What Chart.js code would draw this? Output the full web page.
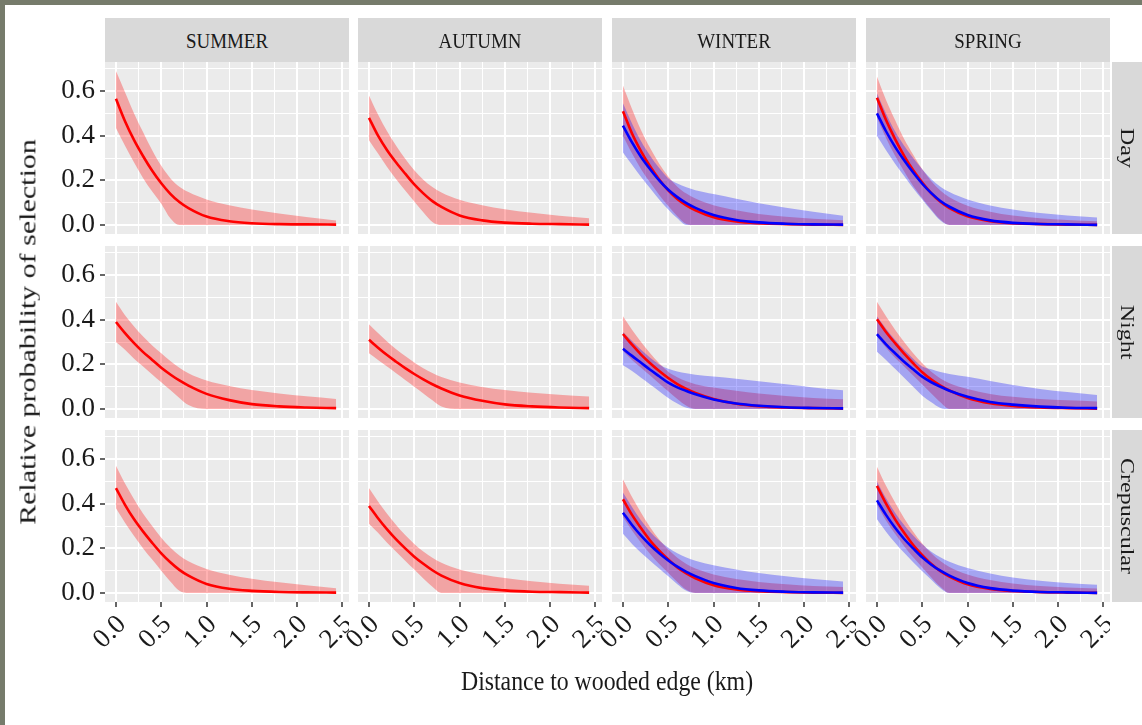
<!DOCTYPE html>
<html>
<head>
<meta charset="utf-8">
<script src="https://cdn.jsdelivr.net/npm/chart.js@4/dist/chart.umd.min.js"></script>
<style>
html,body{margin:0;padding:0;background:#ffffff;}
body{width:1142px;height:725px;position:relative;overflow:hidden;font-family:'Liberation Serif',serif;color:#1a1a1a;}
.frame{position:absolute;background:#767b6b;}
.strip{position:absolute;background:#D9D9D9;overflow:hidden;}
.lbl{position:absolute;white-space:nowrap;line-height:1;color:#1a1a1a;font-family:'Liberation Serif',serif;}
.pwrap{position:absolute;}
.pwrap canvas{display:block;}
</style>
</head>
<body>
<div class="frame" style="left:0;top:0;width:1142px;height:5px;"></div>
<div class="frame" style="left:0;top:0;width:5px;height:725px;"></div>
<script>
// ---------------- data ----------------
const DIST_KM = [0, 0.1, 0.2, 0.3, 0.4, 0.5, 0.6, 0.7, 0.8, 1.0, 1.25, 1.5, 1.8, 2.1, 2.43];
const SEASONS = ['SUMMER', 'AUTUMN', 'WINTER', 'SPRING'];
const PERIODS = ['Day', 'Night', 'Crepuscular'];
const X_TICKS = [0, 0.5, 1.0, 1.5, 2.0, 2.5];
const X_MINOR = [0.25, 0.75, 1.25, 1.75, 2.25];
const Y_TICKS = [0, 0.2, 0.4, 0.6];
const Y_MINOR = [0.1, 0.3, 0.5, 0.7];
const X_TITLE = 'Distance to wooded edge (km)';
const Y_TITLE = 'Relative probability of selection';

const SUMMER_DAY_FIT = [0.565,0.465,0.38,0.308,0.243,0.187,0.14,0.103,0.076,0.038,0.017,0.008,0.004,0.003,0.002];
const SUMMER_DAY_HI  = [0.69,0.595,0.5,0.415,0.335,0.265,0.21,0.172,0.148,0.115,0.089,0.07,0.052,0.036,0.02];
const SUMMER_DAY_LO  = [0.435,0.355,0.28,0.21,0.15,0.095,0.03,0,0,0,0,0,0,0,0];

const SUMMER_NIGHT_FIT = [0.39,0.34,0.295,0.255,0.22,0.185,0.155,0.128,0.105,0.068,0.04,0.022,0.012,0.007,0.004];
const SUMMER_NIGHT_HI  = [0.48,0.42,0.37,0.325,0.285,0.25,0.215,0.185,0.16,0.128,0.103,0.085,0.07,0.057,0.045];
const SUMMER_NIGHT_LO  = [0.3,0.265,0.225,0.19,0.155,0.12,0.085,0.05,0.018,0,0,0,0,0,0];

const SUMMER_CREP_FIT = [0.47,0.395,0.33,0.275,0.225,0.178,0.138,0.104,0.078,0.041,0.019,0.01,0.005,0.003,0.002];
const SUMMER_CREP_HI  = [0.57,0.49,0.42,0.355,0.3,0.248,0.204,0.168,0.142,0.108,0.082,0.064,0.048,0.035,0.022];
const SUMMER_CREP_LO  = [0.38,0.315,0.255,0.2,0.15,0.1,0.052,0.01,0,0,0,0,0,0,0];

const AUTUMN_DAY_FIT = [0.48,0.4,0.335,0.28,0.23,0.182,0.142,0.107,0.081,0.043,0.021,0.011,0.006,0.004,0.002];
const AUTUMN_DAY_HI  = [0.58,0.495,0.42,0.355,0.297,0.245,0.203,0.17,0.146,0.113,0.089,0.071,0.055,0.042,0.03];
const AUTUMN_DAY_LO  = [0.38,0.32,0.26,0.205,0.155,0.105,0.057,0.014,0,0,0,0,0,0,0];

const AUTUMN_NIGHT_FIT = [0.31,0.275,0.242,0.212,0.183,0.157,0.133,0.111,0.092,0.061,0.037,0.021,0.012,0.007,0.004];
const AUTUMN_NIGHT_HI  = [0.38,0.34,0.302,0.268,0.237,0.208,0.183,0.162,0.144,0.119,0.099,0.085,0.073,0.064,0.056];
const AUTUMN_NIGHT_LO  = [0.25,0.22,0.19,0.16,0.13,0.1,0.07,0.04,0.012,0,0,0,0,0,0];

const AUTUMN_CREP_FIT = [0.39,0.335,0.285,0.24,0.2,0.163,0.131,0.102,0.078,0.045,0.022,0.012,0.006,0.004,0.002];
const AUTUMN_CREP_HI  = [0.47,0.41,0.355,0.305,0.26,0.22,0.186,0.158,0.136,0.106,0.083,0.067,0.053,0.042,0.033];
const AUTUMN_CREP_LO  = [0.31,0.27,0.225,0.185,0.145,0.105,0.065,0.028,0,0,0,0,0,0,0];

const WINTER_DAY_FIT_R = [0.51,0.41,0.33,0.262,0.204,0.155,0.117,0.088,0.066,0.035,0.016,0.008,0.004,0.002,0.001];
const WINTER_DAY_HI_R  = [0.625,0.52,0.425,0.345,0.275,0.217,0.172,0.141,0.119,0.089,0.066,0.05,0.037,0.028,0.022];
const WINTER_DAY_LO_R  = [0.4,0.32,0.25,0.19,0.135,0.085,0.04,0.005,0,0,0,0,0,0,0];
const WINTER_DAY_FIT_B = [0.445,0.37,0.305,0.25,0.2,0.158,0.125,0.098,0.077,0.045,0.023,0.012,0.006,0.003,0.002];
const WINTER_DAY_HI_B  = [0.545,0.455,0.375,0.31,0.255,0.21,0.186,0.169,0.156,0.139,0.118,0.098,0.078,0.06,0.042];
const WINTER_DAY_LO_B  = [0.325,0.27,0.215,0.165,0.115,0.07,0.03,0,0,0,0,0,0,0,0];

const WINTER_NIGHT_FIT_R = [0.336,0.288,0.244,0.205,0.17,0.139,0.112,0.09,0.072,0.045,0.024,0.013,0.007,0.004,0.002];
const WINTER_NIGHT_HI_R  = [0.415,0.355,0.3,0.25,0.205,0.167,0.142,0.124,0.111,0.096,0.082,0.07,0.059,0.05,0.044];
const WINTER_NIGHT_LO_R  = [0.26,0.22,0.185,0.15,0.115,0.08,0.045,0.015,0,0,0,0,0,0,0];
const WINTER_NIGHT_FIT_B = [0.27,0.238,0.207,0.176,0.147,0.118,0.097,0.081,0.066,0.043,0.025,0.015,0.008,0.005,0.003];
const WINTER_NIGHT_HI_B  = [0.345,0.305,0.265,0.23,0.2,0.18,0.168,0.16,0.154,0.146,0.136,0.125,0.111,0.097,0.084];
const WINTER_NIGHT_LO_B  = [0.196,0.17,0.14,0.11,0.08,0.05,0.025,0.006,0,0,0,0,0,0,0];

const WINTER_CREP_FIT_R = [0.42,0.35,0.29,0.235,0.19,0.15,0.115,0.088,0.066,0.035,0.016,0.008,0.004,0.002,0.001];
const WINTER_CREP_HI_R  = [0.51,0.43,0.36,0.295,0.24,0.195,0.158,0.13,0.11,0.083,0.063,0.05,0.04,0.032,0.027];
const WINTER_CREP_LO_R  = [0.34,0.28,0.225,0.175,0.13,0.09,0.05,0.015,0,0,0,0,0,0,0];
const WINTER_CREP_FIT_B = [0.36,0.305,0.257,0.215,0.178,0.146,0.118,0.095,0.076,0.045,0.023,0.012,0.006,0.003,0.002];
const WINTER_CREP_HI_B  = [0.45,0.385,0.325,0.275,0.235,0.203,0.178,0.159,0.145,0.125,0.106,0.09,0.075,0.063,0.052];
const WINTER_CREP_LO_B  = [0.265,0.22,0.18,0.145,0.11,0.075,0.04,0.01,0,0,0,0,0,0,0];

const SPRING_DAY_FIT_R = [0.57,0.47,0.385,0.31,0.245,0.19,0.142,0.104,0.076,0.039,0.017,0.008,0.004,0.002,0.001];
const SPRING_DAY_HI_R  = [0.665,0.56,0.47,0.385,0.315,0.25,0.196,0.155,0.125,0.087,0.06,0.043,0.031,0.023,0.017];
const SPRING_DAY_LO_R  = [0.48,0.39,0.31,0.24,0.175,0.12,0.07,0.025,0,0,0,0,0,0,0];
const SPRING_DAY_FIT_B = [0.5,0.42,0.35,0.29,0.235,0.185,0.143,0.108,0.082,0.045,0.021,0.01,0.005,0.003,0.001];
const SPRING_DAY_HI_B  = [0.59,0.5,0.42,0.355,0.3,0.25,0.205,0.172,0.148,0.115,0.088,0.07,0.054,0.043,0.034];
const SPRING_DAY_LO_B  = [0.4,0.335,0.275,0.22,0.165,0.115,0.065,0.02,0,0,0,0,0,0,0];

const SPRING_NIGHT_FIT_R = [0.402,0.345,0.295,0.248,0.205,0.165,0.132,0.105,0.083,0.05,0.026,0.014,0.007,0.004,0.002];
const SPRING_NIGHT_HI_R  = [0.48,0.415,0.355,0.3,0.25,0.205,0.167,0.137,0.116,0.09,0.068,0.055,0.045,0.039,0.034];
const SPRING_NIGHT_LO_R  = [0.325,0.275,0.23,0.19,0.15,0.11,0.07,0.03,0,0,0,0,0,0,0];
const SPRING_NIGHT_FIT_B = [0.335,0.29,0.25,0.212,0.178,0.145,0.12,0.1,0.082,0.055,0.032,0.02,0.011,0.006,0.004];
const SPRING_NIGHT_HI_B  = [0.415,0.36,0.31,0.265,0.225,0.19,0.178,0.166,0.157,0.145,0.126,0.108,0.09,0.076,0.063];
const SPRING_NIGHT_LO_B  = [0.257,0.22,0.18,0.14,0.1,0.06,0.03,0.005,0,0,0,0,0,0,0];

const SPRING_CREP_FIT_R = [0.48,0.4,0.33,0.27,0.215,0.17,0.13,0.098,0.074,0.039,0.018,0.009,0.004,0.002,0.001];
const SPRING_CREP_HI_R  = [0.565,0.48,0.405,0.335,0.275,0.222,0.178,0.143,0.117,0.083,0.058,0.043,0.032,0.025,0.02];
const SPRING_CREP_LO_R  = [0.395,0.325,0.265,0.21,0.16,0.115,0.07,0.028,0,0,0,0,0,0,0];
const SPRING_CREP_FIT_B = [0.415,0.35,0.292,0.242,0.2,0.16,0.127,0.1,0.078,0.045,0.022,0.011,0.005,0.003,0.001];
const SPRING_CREP_HI_B  = [0.5,0.425,0.36,0.305,0.258,0.218,0.185,0.16,0.14,0.112,0.088,0.07,0.055,0.045,0.037];
const SPRING_CREP_LO_B  = [0.33,0.275,0.225,0.18,0.138,0.098,0.06,0.022,0,0,0,0,0,0,0];

// ---------------- style / layout ----------------
const FONT = "'Liberation Serif', 'Times New Roman', serif";
const RED = { line: '#FF0000', band: 'rgba(255,0,0,0.30)' };
const BLUE = { line: '#0000FF', band: 'rgba(0,0,255,0.30)' };
const COL_X = [105, 358, 612, 866];
const ROW_Y = [62, 246, 430];
const PANEL_W = 244, PANEL_H = 172;
const X_MIN = -0.121, X_MAX = 2.572, Y_MIN = -0.04, Y_MAX = 0.73;

function grp(style, fit, lo, hi) { return { style, fit, lo, hi }; }
const PANELS = [
  [ [grp(RED, SUMMER_DAY_FIT, SUMMER_DAY_LO, SUMMER_DAY_HI)],
    [grp(RED, AUTUMN_DAY_FIT, AUTUMN_DAY_LO, AUTUMN_DAY_HI)],
    [grp(RED, WINTER_DAY_FIT_R, WINTER_DAY_LO_R, WINTER_DAY_HI_R), grp(BLUE, WINTER_DAY_FIT_B, WINTER_DAY_LO_B, WINTER_DAY_HI_B)],
    [grp(RED, SPRING_DAY_FIT_R, SPRING_DAY_LO_R, SPRING_DAY_HI_R), grp(BLUE, SPRING_DAY_FIT_B, SPRING_DAY_LO_B, SPRING_DAY_HI_B)] ],
  [ [grp(RED, SUMMER_NIGHT_FIT, SUMMER_NIGHT_LO, SUMMER_NIGHT_HI)],
    [grp(RED, AUTUMN_NIGHT_FIT, AUTUMN_NIGHT_LO, AUTUMN_NIGHT_HI)],
    [grp(RED, WINTER_NIGHT_FIT_R, WINTER_NIGHT_LO_R, WINTER_NIGHT_HI_R), grp(BLUE, WINTER_NIGHT_FIT_B, WINTER_NIGHT_LO_B, WINTER_NIGHT_HI_B)],
    [grp(RED, SPRING_NIGHT_FIT_R, SPRING_NIGHT_LO_R, SPRING_NIGHT_HI_R), grp(BLUE, SPRING_NIGHT_FIT_B, SPRING_NIGHT_LO_B, SPRING_NIGHT_HI_B)] ],
  [ [grp(RED, SUMMER_CREP_FIT, SUMMER_CREP_LO, SUMMER_CREP_HI)],
    [grp(RED, AUTUMN_CREP_FIT, AUTUMN_CREP_LO, AUTUMN_CREP_HI)],
    [grp(RED, WINTER_CREP_FIT_R, WINTER_CREP_LO_R, WINTER_CREP_HI_R), grp(BLUE, WINTER_CREP_FIT_B, WINTER_CREP_LO_B, WINTER_CREP_HI_B)],
    [grp(RED, SPRING_CREP_FIT_R, SPRING_CREP_LO_R, SPRING_CREP_HI_R), grp(BLUE, SPRING_CREP_FIT_B, SPRING_CREP_LO_B, SPRING_CREP_HI_B)] ]
];

const X_GRID = X_TICKS.concat(X_MINOR).sort((a, b) => a - b);
const Y_GRID = Y_TICKS.concat(Y_MINOR).sort((a, b) => a - b);
function isIn(v, arr) { return arr.some(t => Math.abs(t - v) < 1e-9); }
function pts(arr) { return DIST_KM.map((x, i) => ({ x: x, y: arr[i] })); }

const bgPlugin = {
  id: 'panelBg',
  beforeDraw(chart) {
    const a = chart.chartArea, ctx = chart.ctx;
    ctx.save();
    ctx.fillStyle = '#EBEBEB';
    ctx.fillRect(a.left, a.top, a.right - a.left, a.bottom - a.top);
    ctx.restore();
  }
};

function addLabel(text, cx, cy, size, transform) {
  const d = document.createElement('div');
  d.className = 'lbl';
  d.textContent = text;
  d.style.left = cx + 'px';
  d.style.top = cy + 'px';
  d.style.fontSize = size + 'px';
  d.style.transform = 'translate(-50%,-50%) ' + (transform || '');
  document.body.appendChild(d);
}

function makePanel(r, c) {
  const padL = c === 0 ? 70 : 40;
  const padB = r === 2 ? 80 : 0;
  const W = PANEL_W + padL, H = PANEL_H + padB;
  const wrap = document.createElement('div');
  wrap.className = 'pwrap';
  wrap.style.left = (COL_X[c] - padL) + 'px';
  wrap.style.top = ROW_Y[r] + 'px';
  wrap.style.width = W + 'px';
  wrap.style.height = H + 'px';
  const cv = document.createElement('canvas');
  cv.width = W; cv.height = H;
  cv.style.width = W + 'px'; cv.style.height = H + 'px';
  wrap.appendChild(cv);
  document.body.appendChild(wrap);

  const groups = PANELS[r][c];
  const datasets = [];
  groups.forEach((g, i) => {
    datasets.push({ data: pts(g.hi), fill: '+1', backgroundColor: g.style.band, borderColor: 'rgba(0,0,0,0)', borderWidth: 0, pointRadius: 0, cubicInterpolationMode: 'monotone', order: 10 - i });
    datasets.push({ data: pts(g.lo), fill: false, borderColor: 'rgba(0,0,0,0)', borderWidth: 0, pointRadius: 0, cubicInterpolationMode: 'monotone', order: 10 - i });
  });
  groups.forEach((g, i) => {
    datasets.push({ data: pts(g.fit), fill: false, borderColor: g.style.line, borderWidth: 2.6, pointRadius: 0, cubicInterpolationMode: 'monotone', order: 5 - i });
  });

  new Chart(cv, {
    type: 'line',
    data: { datasets },
    plugins: [bgPlugin],
    options: {
      responsive: false, animation: false, devicePixelRatio: 1, events: [],
      layout: { padding: 0 },
      plugins: { legend: { display: false }, tooltip: { enabled: false } },
      scales: {
        x: {
          type: 'linear', min: X_MIN, max: X_MAX,
          afterBuildTicks: s => { s.ticks = X_GRID.map(v => ({ value: v })); },
          ticks: {
            display: r === 2, autoSkip: false, minRotation: 45, maxRotation: 45, padding: 2, labelOffset: 6,
            color: '#1a1a1a', font: { family: FONT, size: 27 },
            callback: v => isIn(v, X_TICKS) ? v.toFixed(1) : ''
          },
          grid: {
            color: '#ffffff',
            lineWidth: ctx => (ctx.tick && isIn(ctx.tick.value, X_TICKS)) ? 2 : 1,
            drawTicks: r === 2, tickLength: 5, tickWidth: 1.5,
            tickColor: ctx => (ctx.tick && isIn(ctx.tick.value, X_TICKS)) ? '#333333' : 'rgba(0,0,0,0)'
          },
          border: { display: false },
          afterFit: s => { s.height = padB; s.paddingLeft = 0; s.paddingRight = 0; s.paddingTop = 0; s.paddingBottom = 0; }
        },
        y: {
          type: 'linear', min: Y_MIN, max: Y_MAX,
          afterBuildTicks: s => { s.ticks = Y_GRID.map(v => ({ value: v })); },
          ticks: {
            display: c === 0, autoSkip: false, padding: 5,
            color: '#1a1a1a', font: { family: FONT, size: 27 },
            callback: v => isIn(v, Y_TICKS) ? v.toFixed(1) : ''
          },
          grid: {
            color: '#ffffff',
            lineWidth: ctx => (ctx.tick && isIn(ctx.tick.value, Y_TICKS)) ? 2 : 1,
            drawTicks: c === 0, tickLength: 5, tickWidth: 1.5,
            tickColor: ctx => (ctx.tick && isIn(ctx.tick.value, Y_TICKS)) ? '#333333' : 'rgba(0,0,0,0)'
          },
          border: { display: false },
          afterFit: s => { s.width = padL; s.paddingLeft = 0; s.paddingRight = 0; s.paddingTop = 0; s.paddingBottom = 0; }
        }
      }
    }
  });
}

// strips
SEASONS.forEach((s, c) => {
  const d = document.createElement('div');
  d.className = 'strip';
  d.style.left = COL_X[c] + 'px'; d.style.top = '18px';
  d.style.width = PANEL_W + 'px'; d.style.height = '44px';
  document.body.appendChild(d);
});
PERIODS.forEach((p, r) => {
  const d = document.createElement('div');
  d.className = 'strip';
  d.style.left = '1112px'; d.style.top = ROW_Y[r] + 'px';
  d.style.width = '32px'; d.style.height = PANEL_H + 'px';
  document.body.appendChild(d);
});

for (let r = 0; r < 3; r++) for (let c = 0; c < 4; c++) makePanel(r, c);

SEASONS.forEach((s, c) => addLabel(s, COL_X[c] + PANEL_W / 2, 41, 22, 'scaleX(0.86)'));
PERIODS.forEach((p, r) => addLabel(p, 1127, ROW_Y[r] + PANEL_H / 2, 24, 'rotate(90deg) scaleY(0.8)'));
addLabel(Y_TITLE, 27, 332, 30, 'rotate(-90deg) scaleY(0.8)');
addLabel(X_TITLE, 607, 681, 28, 'scaleX(0.85)');
</script>
</body>
</html>
